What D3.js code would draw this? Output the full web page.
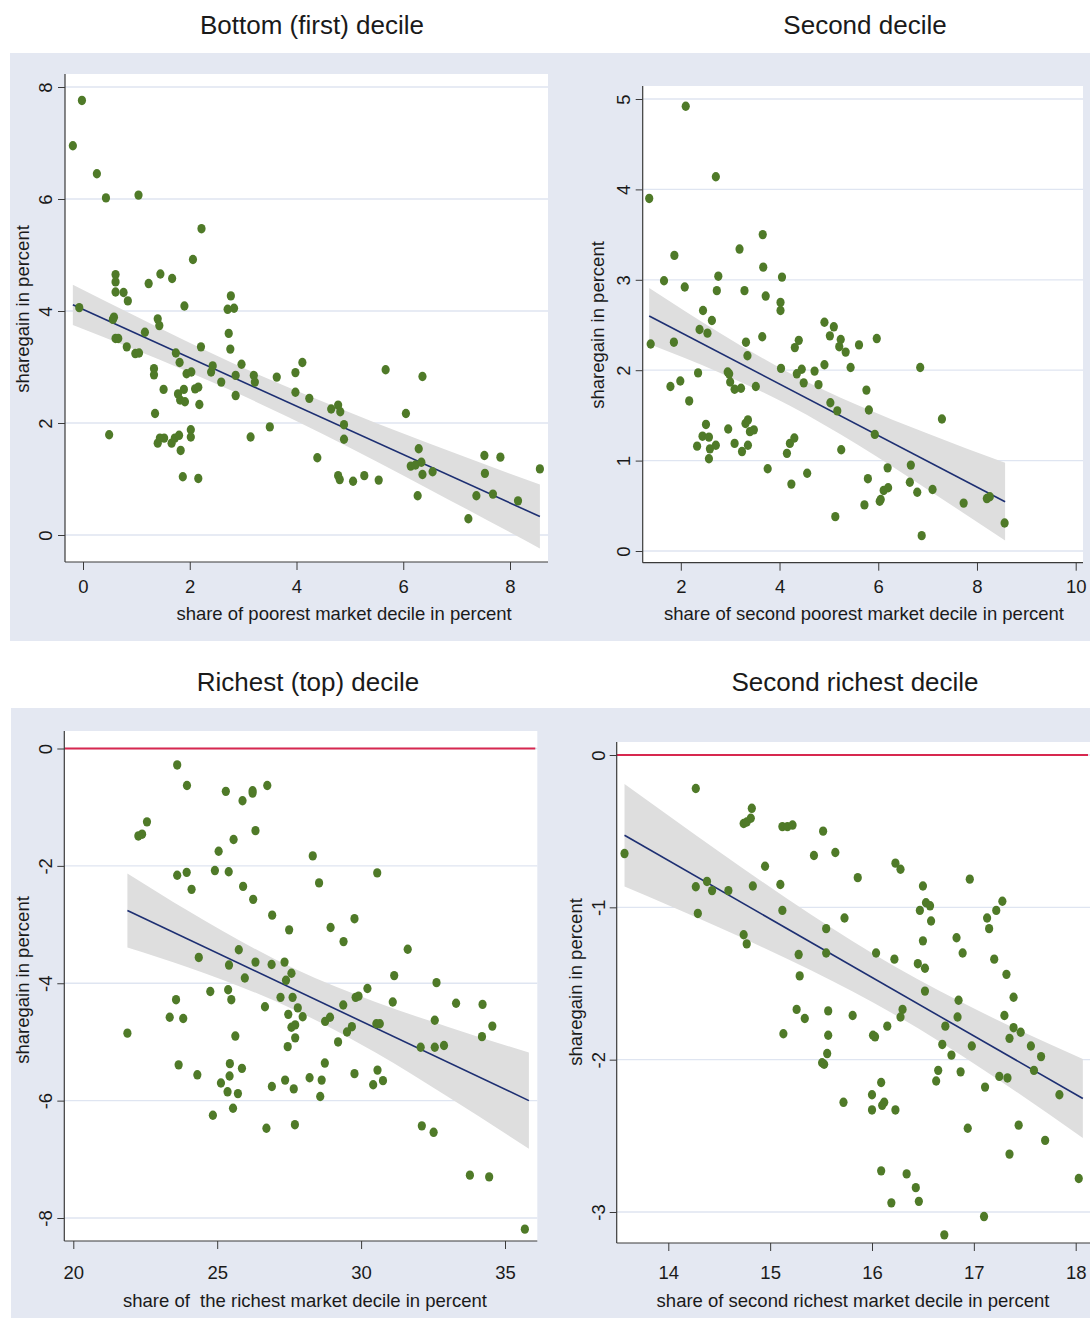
<!DOCTYPE html>
<html>
<head>
<meta charset="utf-8">
<script src="https://cdn.jsdelivr.net/npm/d3@7"></script>
<style>
  body { margin: 0; background: #fff; }
  svg text { font-family: "Liberation Sans", Arial, Helvetica, sans-serif; fill: #1a1a1a; }
</style>
</head>
<body>
<div id="chart"></div>
<script>
// ---- data ----
var titles = ["Bottom (first) decile", "Second decile", "Richest (top) decile", "Second richest decile"];
var xTitles = ["share of poorest market decile in percent",
               "share of second poorest market decile in percent",
               "share of  the richest market decile in percent",
               "share of second richest market decile in percent"];
var yTitle = "sharegain in percent";

var p1XTicks = [0, 2, 4, 6, 8], p1YTicks = [0, 2, 4, 6, 8];
var p2XTicks = [2, 4, 6, 8, 10], p2YTicks = [0, 1, 2, 3, 4, 5];
var p3XTicks = [20, 25, 30, 35], p3YTicks = [0, -2, -4, -6, -8];
var p4XTicks = [14, 15, 16, 17, 18], p4YTicks = [0, -1, -2, -3];

var p1Points = [[-0.19,6.95],[-0.02,7.76],[0.26,6.45],[0.43,6.02],[1.04,6.07],[2.22,5.47],[2.06,4.92],
  [0.61,4.65],[0.61,4.52],[0.61,4.34],[0.76,4.33],[0.84,4.18],[1.23,4.49],[1.45,4.66],[1.67,4.58],
  [-0.07,4.06],[1.90,4.09],[2.77,4.27],[2.71,4.03],[2.83,4.05],[0.58,3.89],[0.56,3.85],[1.40,3.86],
  [1.43,3.74],[2.73,3.60],[1.16,3.62],[2.21,3.36],[2.76,3.32],[0.61,3.51],[0.66,3.51],[0.82,3.36],
  [0.98,3.24],[1.05,3.25],[1.74,3.25],[1.81,3.08],[1.33,2.97],[1.33,2.86],[1.51,2.60],[1.94,2.88],
  [2.03,2.91],[2.40,2.91],[2.43,3.02],[2.97,3.05],[2.59,2.73],[2.86,2.85],[3.20,2.85],[3.22,2.73],
  [3.63,2.82],[3.98,2.90],[4.11,3.08],[3.98,2.55],[4.24,2.44],[1.78,2.52],[1.89,2.60],[1.82,2.41],
  [1.91,2.38],[2.10,2.61],[2.16,2.64],[2.18,2.33],[2.86,2.49],[1.35,2.17],[0.49,1.79],[1.40,1.64],
  [1.44,1.73],[1.52,1.73],[1.66,1.64],[1.72,1.73],[1.80,1.78],[1.83,1.51],[2.02,1.88],[2.02,1.75],
  [1.87,1.04],[2.16,1.01],[3.14,1.75],[3.50,1.93],[4.39,1.38],[4.65,2.25],[4.78,2.32],[4.82,2.20],
  [4.89,1.97],[4.89,1.71],[4.78,1.06],[4.81,0.99],[5.06,0.96],[5.27,1.06],[5.54,0.98],[5.67,2.95],
  [6.05,2.17],[6.36,2.83],[6.29,1.54],[6.14,1.23],[6.23,1.25],[6.34,1.30],[6.36,1.08],[6.55,1.13],
  [6.27,0.70],[7.22,0.29],[7.37,0.70],[7.52,1.42],[7.53,1.10],[7.82,1.39],[7.68,0.73],[8.15,0.61],
  [8.56,1.18]];
var p1FitX = [-0.19, 8.56], p1FitY = [4.11, 0.33];
var p1BandX = [-0.19, 1.0, 2.8, 4.5, 6.5, 8.56];
var p1BandLo = [3.75, 3.30, 2.57, 1.80, 0.81, -0.24];
var p1BandHi = [4.47, 3.90, 3.07, 2.38, 1.63, 0.90];

var p2Points = [[1.36,3.90],[2.10,4.92],[2.71,4.14],[1.87,3.27],[1.66,2.99],[2.08,2.92],[2.76,3.04],
  [2.73,2.88],[3.19,3.34],[3.66,3.50],[3.67,3.14],[3.29,2.88],[3.72,2.82],[4.05,3.03],[4.02,2.75],
  [4.02,2.66],[2.45,2.66],[2.63,2.55],[2.38,2.45],[2.54,2.41],[1.39,2.29],[1.86,2.31],[3.32,2.31],
  [3.35,2.16],[3.65,2.37],[2.35,1.97],[1.79,1.82],[1.99,1.88],[2.17,1.66],[2.95,1.98],[2.98,1.96],
  [3.00,1.87],[3.09,1.79],[3.22,1.80],[3.52,1.82],[4.03,2.02],[4.39,2.33],[4.31,2.25],[4.35,1.96],
  [4.45,2.01],[4.49,1.86],[4.71,1.99],[4.79,1.84],[4.91,2.53],[5.10,2.48],[5.02,2.38],[5.24,2.34],
  [5.21,2.26],[5.34,2.20],[5.44,2.03],[5.61,2.28],[4.91,2.06],[5.03,1.64],[5.17,1.55],[5.25,1.12],
  [2.51,1.40],[2.44,1.27],[2.57,1.26],[2.33,1.16],[2.59,1.13],[2.71,1.17],[2.57,1.02],[2.96,1.35],
  [3.09,1.19],[3.24,1.10],[3.31,1.41],[3.36,1.45],[3.40,1.32],[3.48,1.34],[3.36,1.17],[3.76,0.91],
  [4.15,1.08],[4.21,1.19],[4.30,1.25],[4.24,0.74],[4.56,0.86],[5.13,0.38],[5.97,2.35],[6.85,2.03],
  [5.76,1.78],[5.81,1.56],[5.93,1.29],[7.29,1.46],[6.19,0.92],[6.66,0.95],[5.79,0.80],[5.72,0.51],
  [6.03,0.55],[6.05,0.57],[6.11,0.67],[6.20,0.70],[6.64,0.76],[6.79,0.65],[7.10,0.68],[6.88,0.17],
  [7.73,0.53],[8.20,0.58],[8.26,0.60],[8.56,0.31]];
var p2FitX = [1.36, 8.57], p2FitY = [2.60, 0.545];
var p2BandX = [1.36, 2.8, 4.2, 5.6, 7.0, 8.57];
var p2BandLo = [2.29, 1.97, 1.61, 1.17, 0.68, 0.115];
var p2BandHi = [2.91, 2.41, 1.97, 1.61, 1.30, 0.975];

var p3Points = [[23.61,-0.28],[23.95,-0.63],[22.56,-1.25],[22.39,-1.46],[22.26,-1.49],[25.30,-0.73],
  [25.88,-0.89],[26.23,-0.72],[26.23,-0.76],[26.74,-0.63],[26.33,-1.40],[25.57,-1.55],[25.05,-1.75],
  [23.61,-2.16],[23.94,-2.11],[24.11,-2.40],[24.92,-2.08],[25.40,-2.10],[25.90,-2.35],[26.25,-2.57],
  [26.91,-2.84],[27.50,-3.09],[24.36,-3.56],[25.41,-3.69],[25.75,-3.43],[25.96,-3.91],[26.33,-3.64],
  [26.89,-3.68],[27.34,-3.64],[27.58,-3.83],[27.39,-3.95],[27.20,-4.24],[27.62,-4.24],[27.80,-4.42],
  [27.47,-4.53],[27.58,-4.75],[27.71,-4.71],[27.71,-4.93],[27.45,-5.08],[24.76,-4.14],[25.38,-4.11],
  [25.49,-4.28],[23.57,-4.28],[23.35,-4.58],[23.82,-4.60],[26.66,-4.40],[25.63,-4.90],[21.88,-4.85],
  [23.66,-5.39],[24.31,-5.56],[25.44,-5.37],[25.86,-5.45],[25.43,-5.58],[25.13,-5.70],[25.36,-5.85],
  [25.72,-5.88],[25.55,-6.13],[24.85,-6.25],[26.90,-5.76],[27.36,-5.65],[27.66,-5.80],[26.71,-6.47],
  [27.70,-6.41],[28.32,-1.83],[28.54,-2.29],[30.56,-2.12],[28.94,-3.05],[29.77,-2.90],[29.39,-3.29],
  [31.62,-3.42],[31.15,-3.87],[32.62,-3.99],[30.22,-4.09],[29.81,-4.24],[29.91,-4.22],[29.38,-4.37],
  [31.10,-4.32],[33.30,-4.34],[34.22,-4.36],[27.97,-4.57],[28.75,-4.65],[28.92,-4.58],[29.68,-4.74],
  [29.51,-4.83],[30.53,-4.69],[30.65,-4.69],[32.56,-4.63],[34.56,-4.73],[29.20,-5.00],[32.07,-5.09],
  [32.56,-5.09],[32.88,-5.06],[34.20,-4.91],[28.74,-5.36],[28.63,-5.65],[28.21,-5.61],[28.58,-5.93],
  [29.77,-5.54],[30.57,-5.48],[30.42,-5.73],[30.76,-5.66],[32.11,-6.43],[32.52,-6.54],[33.78,-7.27],
  [34.45,-7.30],[35.69,-8.19]];
var p3FitX = [21.88, 35.83], p3FitY = [-2.76, -6.00];
var p3BandX = [21.88, 24, 27.67, 30.5, 33, 35.83];
var p3BandLo = [-3.39, -3.73, -4.45, -5.18, -5.93, -6.82];
var p3BandHi = [-2.13, -2.77, -3.75, -4.32, -4.74, -5.18];

var p4Points = [[13.57,-0.647],[14.27,-0.22],[14.27,-0.865],[14.38,-0.83],[14.43,-0.89],[14.29,-1.04],
  [14.59,-0.89],[14.74,-0.45],[14.77,-0.44],[14.81,-0.415],[14.82,-0.35],[14.83,-0.86],[14.74,-1.18],
  [14.77,-1.24],[14.95,-0.73],[15.12,-0.47],[15.17,-0.47],[15.22,-0.46],[15.10,-0.85],[15.12,-1.02],
  [15.28,-1.31],[15.29,-1.45],[15.26,-1.67],[15.34,-1.73],[15.13,-1.83],[15.52,-0.50],[15.43,-0.66],
  [15.64,-0.64],[15.73,-1.07],[15.55,-1.14],[15.55,-1.30],[15.57,-1.68],[15.57,-1.84],[15.56,-1.96],
  [15.51,-2.02],[15.53,-2.03],[15.72,-2.28],[15.86,-0.805],[15.81,-1.71],[16.23,-0.71],[16.28,-0.75],
  [16.04,-1.30],[16.22,-1.34],[16.01,-1.84],[16.03,-1.85],[16.15,-1.78],[16.30,-1.67],[16.28,-1.72],
  [16.09,-2.15],[16.00,-2.23],[16.12,-2.28],[16.10,-2.30],[16.00,-2.33],[16.23,-2.33],[16.09,-2.73],
  [16.34,-2.75],[16.19,-2.94],[16.43,-2.84],[16.46,-2.93],[16.71,-3.15],[16.50,-0.86],[16.47,-1.02],
  [16.53,-0.97],[16.57,-0.99],[16.58,-1.09],[16.50,-1.22],[16.45,-1.37],[16.52,-1.40],[16.52,-1.55],
  [16.96,-0.815],[16.83,-1.20],[16.89,-1.30],[16.85,-1.61],[16.84,-1.72],[16.72,-1.78],[16.69,-1.90],
  [16.78,-1.97],[16.65,-2.07],[16.63,-2.14],[16.87,-2.08],[16.98,-1.91],[16.94,-2.45],[17.13,-1.07],
  [17.22,-1.02],[17.28,-0.96],[17.15,-1.14],[17.20,-1.34],[17.32,-1.44],[17.39,-1.59],[17.30,-1.71],
  [17.39,-1.79],[17.35,-1.86],[17.46,-1.82],[17.56,-1.91],[17.66,-1.98],[17.59,-2.07],[17.25,-2.11],
  [17.33,-2.12],[17.11,-2.18],[17.84,-2.23],[17.44,-2.43],[17.70,-2.53],[17.35,-2.62],[18.03,-2.78],
  [17.10,-3.03]];
var p4FitX = [13.57, 18.07], p4FitY = [-0.527, -2.255];
var p4BandX = [13.57, 14.5, 15.4, 16.22, 17.1, 18.07];
var p4BandLo = [-0.863, -1.133, -1.413, -1.703, -2.069, -2.515];
var p4BandHi = [-0.191, -0.635, -1.047, -1.387, -1.697, -1.995];

// ---- layout ----
var dotColor = "#4f7a28", fitColor = "#1d2f72", bandColor = "#dedede",
    gridColor = "#dfe5f1", bgColor = "#e4e8f2", refColor = "#d7284f", axisColor = "#3a3a3a";

var svg = d3.select("#chart").append("svg")
    .attr("width", 1090).attr("height", 1318);

// graph regions
svg.append("rect").attr("x", 10).attr("y", 53).attr("width", 1080).attr("height", 588).attr("fill", bgColor);
svg.append("rect").attr("x", 11).attr("y", 708).attr("width", 1079).attr("height", 610).attr("fill", bgColor);

var panels = [
  {points: p1Points, fitX: p1FitX, fitY: p1FitY, bandX: p1BandX, bandLo: p1BandLo, bandHi: p1BandHi,
   xTicks: p1XTicks, yTicks: p1YTicks, xA: [0, 8], xP: [83, 510], yA: [0, 8], yP: [535, 87],
   r: {x0: 65, x1: 548, y0: 74, y1: 562}, title: titles[0], tx: 312, ty: 34,
   xt: xTitles[0], xtx: 344, xty: 620, xly: 593, ytx: 29, yty: 309, ylx: 52, ref: false},
  {points: p2Points, fitX: p2FitX, fitY: p2FitY, bandX: p2BandX, bandLo: p2BandLo, bandHi: p2BandHi,
   xTicks: p2XTicks, yTicks: p2YTicks, xA: [2, 10], xP: [680.8, 1075.7], yA: [0, 5], yP: [551, 99],
   r: {x0: 642.7, x1: 1083, y0: 86, y1: 562.7}, title: titles[1], tx: 865, ty: 34,
   xt: xTitles[1], xtx: 864, xty: 620, xly: 593, ytx: 604, yty: 325, ylx: 630, ref: false},
  {points: p3Points, fitX: p3FitX, fitY: p3FitY, bandX: p3BandX, bandLo: p3BandLo, bandHi: p3BandHi,
   xTicks: p3XTicks, yTicks: p3YTicks, xA: [20, 35], xP: [73.3, 505], yA: [0, -8], yP: [748.5, 1218],
   r: {x0: 64.3, x1: 537.3, y0: 731, y1: 1241}, title: titles[2], tx: 308, ty: 691,
   xt: xTitles[2], xtx: 305, xty: 1307, xly: 1279, ytx: 29, yty: 980, ylx: 52, ref: true},
  {points: p4Points, fitX: p4FitX, fitY: p4FitY, bandX: p4BandX, bandLo: p4BandLo, bandHi: p4BandHi,
   xTicks: p4XTicks, yTicks: p4YTicks, xA: [14, 18], xP: [668.3, 1075.7], yA: [0, -3], yP: [755, 1212],
   r: {x0: 616.7, x1: 1090, y0: 742, y1: 1243}, title: titles[3], tx: 855, ty: 691,
   xt: xTitles[3], xtx: 853, xty: 1307, xly: 1279, ytx: 582, yty: 982, ylx: 605, ref: true}
];

panels.forEach(drawPanel);

function drawPanel(p) {
    var x = d3.scaleLinear().domain(p.xA).range(p.xP);
    var y = d3.scaleLinear().domain(p.yA).range(p.yP);
    var r = p.r;
    var g = svg.append("g");

    g.append("rect").attr("x", r.x0).attr("y", r.y0)
        .attr("width", r.x1 - r.x0).attr("height", r.y1 - r.y0).attr("fill", "#fff");

    // gridlines
    g.selectAll(".grid").data(p.yTicks).enter().append("line")
        .attr("x1", r.x0).attr("x2", r.x1)
        .attr("y1", function(d) { return y(d); }).attr("y2", function(d) { return y(d); })
        .style("stroke", gridColor).style("stroke-width", 1.3);

    // confidence band
    var band = p.bandX.map(function(v, i) { return [v, p.bandLo[i], p.bandHi[i]]; });
    var area = d3.area()
        .x(function(d) { return x(d[0]); })
        .y0(function(d) { return y(d[1]); })
        .y1(function(d) { return y(d[2]); })
        .curve(d3.curveMonotoneX);
    g.append("path").datum(band).attr("d", area).style("fill", bandColor);

    // fitted line
    var fit = p.fitX.map(function(v, i) { return [v, p.fitY[i]]; });
    g.append("path").datum(fit)
        .attr("d", d3.line().x(function(d) { return x(d[0]); }).y(function(d) { return y(d[1]); }))
        .style("fill", "none").style("stroke", fitColor).style("stroke-width", 1.6);

    if (p.ref) {
        g.append("line").attr("x1", r.x0).attr("x2", r.x1 - 2)
            .attr("y1", y(0)).attr("y2", y(0))
            .style("stroke", refColor).style("stroke-width", 2.2);
    }

    g.append("g").selectAll("ellipse").data(p.points).enter().append("ellipse")
        .attr("cx", function(d) { return x(d[0]); })
        .attr("cy", function(d) { return y(d[1]); })
        .attr("rx", 4.1).attr("ry", 4.7)
        .style("fill", dotColor);

    // axes
    var xAxis = g.append("g").attr("transform", "translate(0," + r.y1 + ")")
        .call(d3.axisBottom(x).tickValues(p.xTicks).tickSize(8).tickSizeOuter(0).tickFormat(function(d) { return String(d); }));
    xAxis.select(".domain").remove();
    xAxis.selectAll("line").style("stroke", axisColor);
    xAxis.selectAll("text").attr("y", p.xly - r.y1).attr("dy", 0)
        .style("font-size", "18.5px").style("fill", "#1a1a1a");

    var yAxis = g.append("g").attr("transform", "translate(" + r.x0 + ",0)")
        .call(d3.axisLeft(y).tickValues(p.yTicks).tickSize(7).tickSizeOuter(0).tickFormat(function(d) { return String(d); }));
    yAxis.select(".domain").remove();
    yAxis.selectAll("line").style("stroke", axisColor);
    yAxis.selectAll("text").attr("x", 0).attr("y", p.ylx - r.x0).attr("dy", 0)
        .attr("transform", "rotate(-90)").attr("text-anchor", "middle")
        .style("font-size", "18.5px").style("fill", "#1a1a1a");

    g.append("line").attr("x1", r.x0).attr("x2", r.x1).attr("y1", r.y1).attr("y2", r.y1)
        .style("stroke", axisColor).style("stroke-width", 1.2);
    g.append("line").attr("x1", r.x0).attr("x2", r.x0).attr("y1", r.y0).attr("y2", r.y1)
        .style("stroke", axisColor).style("stroke-width", 1.2);

    // titles
    svg.append("text").attr("x", p.tx).attr("y", p.ty).attr("text-anchor", "middle")
        .style("font-size", "26px").text(p.title);
    svg.append("text").attr("x", p.xtx).attr("y", p.xty).attr("text-anchor", "middle")
        .style("font-size", "18.5px").style("white-space", "pre").text(p.xt);
    svg.append("text").attr("transform", "translate(" + p.ytx + "," + p.yty + ")rotate(-90)")
        .attr("text-anchor", "middle").style("font-size", "18.5px").text(yTitle);
}
</script>
</body>
</html>
